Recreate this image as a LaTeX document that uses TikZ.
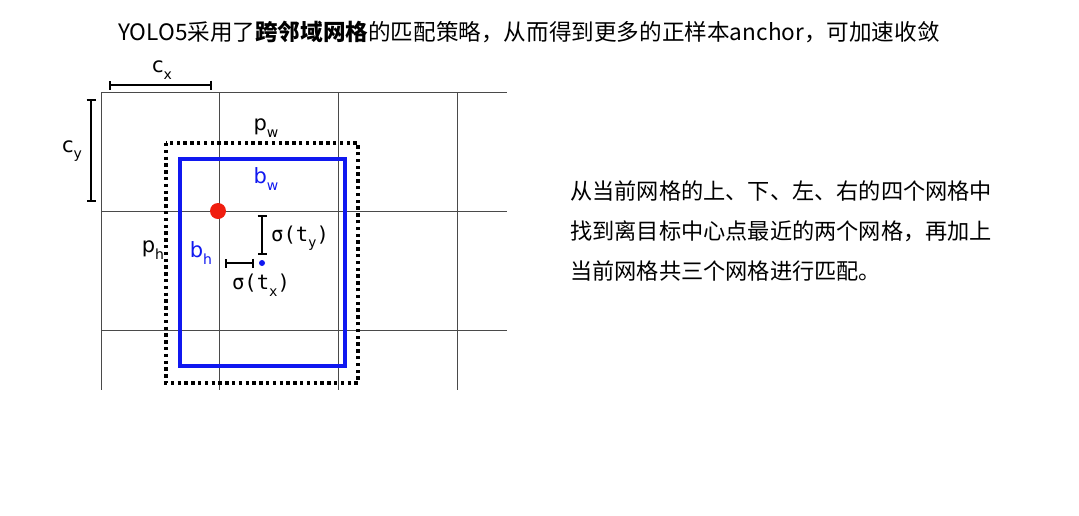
\documentclass[tikz,border=0pt]{standalone}
\usepackage{fontspec}
\setmainfont{DejaVu Sans}
\newfontfamily\cjk{Noto Sans CJK SC}
\newfontfamily\monof{DejaVu Sans Mono}
\usetikzlibrary{positioning, arrows.meta}
\definecolor{boxBlue}{HTML}{1018F0}
\definecolor{dotRed}{HTML}{F01E10}
\definecolor{gridGray}{HTML}{4A4A4A}
\newcommand\lowsub[1]{\raisebox{-0.32em}{\fontsize{14}{14}\selectfont #1}}

\begin{document}
\begin{tikzpicture}[x=1pt, y=-1pt, font=\fontsize{21}{24}\selectfont,
    gridline/.style={gridGray, line width=1pt},
    bracket/.style={line width=1.8pt, {Bar[width=9pt]}-{Bar[width=9pt]}},
    lbl/.style={inner sep=0pt},
    sigma/.style={inner sep=0pt, font=\monof\fontsize{20.5}{24}\selectfont},
    dotbox/.style={line width=4pt, dash pattern=on 3.4pt off 3.4pt},
    bbox/.style={boxBlue, line width=4pt}]
  \useasboundingbox (0,0) rectangle (1079,515);
  % grid cells
  \foreach \x in {101,219,338,457}
    \draw[gridline] (\x,92) -- (\x,390);
  \foreach \y in {92,211,330}
    \draw[gridline] (101,\y) -- (507,\y);

  % prior and predicted boxes
  \draw[dotbox] (166,143) rectangle (358,383);
  \draw[bbox] (180,159) rectangle (345,366);

  % cell offsets
  \coordinate (cxL) at (109,85);
  \coordinate (cxR) at (212,85);
  \draw[bracket] (cxL) -- (cxR);
  \node[lbl] (cx) at (162,70) {c\lowsub{x}};
  \coordinate (cyT) at (91,99);
  \coordinate (cyB) at (91,202);
  \draw[bracket] (cyT) -- (cyB);
  \node[lbl] (cy) at (72,151) {c\lowsub{y}};

  % points
  \node[circle, fill=dotRed, minimum size=16pt, inner sep=0pt] (grid) at (218,211) {};
  \node[circle, fill=boxBlue, minimum size=6pt, inner sep=0pt] (ctr) at (262,263) {};

  % sigma offsets
  \coordinate (tyT) at (262,215);
  \coordinate (tyB) at (262,255);
  \draw[bracket] (tyT) -- (tyB);
  \node[sigma, anchor=west] (ty) at (271,238) {σ(t\lowsub{y})};
  \coordinate (txL) at (225,263);
  \coordinate (txR) at (254,263);
  \draw[bracket] (txL) -- (txR);
  \node[sigma] (tx) at (261,285) {σ(t\lowsub{x})};

  % box sizes
  \node[lbl] (pw) at (266,128) {p\lowsub{w}};
  \node[lbl, text=boxBlue] (bw) at (266,179) {b\lowsub{w}};
  \node[lbl] (ph) at (153,250) {p\lowsub{h}};
  \node[lbl, text=boxBlue] (bh) at (201,253) {b\lowsub{h}};

  % texts
  \node[lbl, font=\cjk\fontsize{22.6}{26}\selectfont] (title) at (529,32)
    {YOLO5采用了\textbf{跨邻域网格}的匹配策略，从而得到更多的正样本anchor，可加速收敛};
  \node[lbl, anchor=west, align=left, font=\cjk\fontsize{22.2}{40}\selectfont] (note) at (570,231)
    {从当前网格的上、下、左、右的四个网格中\\找到离目标中心点最近的两个网格，再加上\\当前网格共三个网格进行匹配。};
\end{tikzpicture}
\end{document}
